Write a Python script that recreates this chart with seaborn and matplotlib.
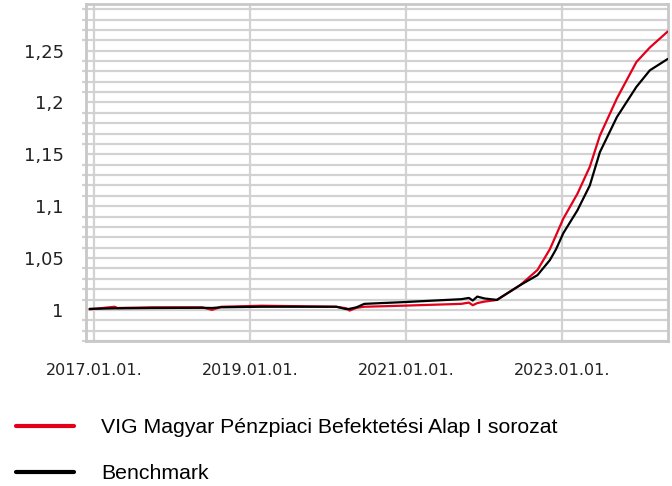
import numpy as np
import pandas as pd
import matplotlib
matplotlib.use("Agg")
import matplotlib.pyplot as plt
import matplotlib.dates as mdates
from matplotlib.ticker import FuncFormatter, MultipleLocator
import seaborn as sns

## data

dates = ["2016-12-12", "2017-04-08", "2017-04-20", "2017-10-01", "2018-05-22",
         "2018-07-08", "2018-08-20", "2019-02-25", "2019-09-02", "2020-02-10",
         "2020-03-28", "2020-04-12", "2020-05-15", "2020-06-20", "2020-12-13",
         "2021-09-17", "2021-10-23", "2021-11-10", "2021-12-01", "2022-01-04",
         "2022-03-03", "2022-06-21", "2022-09-09", "2022-11-06", "2022-12-05",
         "2023-01-08", "2023-03-15", "2023-05-12", "2023-06-28", "2023-09-16",
         "2023-12-16", "2024-02-17", "2024-05-11"]

fund = [1.0005, 1.0030, 1.0018, 1.0025, 1.0025,
        1.0000, 1.0030, 1.0040, 1.0035, 1.0030,
        1.0015, 0.9993, 1.0020, 1.0030, 1.0040,
        1.0058, 1.0070, 1.0045, 1.0065, 1.0080,
        1.0096, 1.0240, 1.0385, 1.0585, 1.0720,
        1.0880, 1.1120, 1.1380, 1.1680, 1.2040,
        1.2390, 1.2530, 1.2685]

benchmark = [1.0010, 1.0015, 1.0015, 1.0018, 1.0020,
             1.0018, 1.0025, 1.0030, 1.0030, 1.0030,
             1.0007, 1.0010, 1.0025, 1.0058, 1.0074,
             1.0103, 1.0115, 1.0090, 1.0128, 1.0110,
             1.0096, 1.0240, 1.0335, 1.0480, 1.0585,
             1.0740, 1.0960, 1.1200, 1.1520, 1.1860,
             1.2150, 1.2310, 1.2420]

series_names = ["VIG Magyar Pénzpiaci Befektetési Alap I sorozat", "Benchmark"]
tick_dates = ["2017-01-01", "2019-01-01", "2021-01-01", "2023-01-01"]
y_ticks = [1.0, 1.05, 1.1, 1.15, 1.2, 1.25]

## long format for seaborn

df = pd.DataFrame({"date": pd.to_datetime(dates), series_names[0]: fund, series_names[1]: benchmark})
long_df = df.melt(id_vars="date", var_name="series", value_name="value")

sns.set_style("white")
plt.rcParams["font.family"] = ["DejaVu Sans"]

fig = plt.figure(figsize=(6.72, 4.86), dpi=100)
ax = fig.add_axes([0.128, 0.2984, 0.866, 0.6934])

grid_col = "#d2d2d2"

sns.lineplot(data=long_df, x="date", y="value", hue="series",
             palette={series_names[0]: "#e2001a", series_names[1]: "black"},
             linewidth=1.6, ax=ax, zorder=3)

ax.set_xlim(pd.Timestamp("2016-11-25"), pd.Timestamp("2024-05-12"))
ax.set_ylim(0.97, 1.295)

ax.set_xticks(pd.to_datetime(tick_dates))
ax.xaxis.set_major_formatter(mdates.DateFormatter("%Y.%m.%d."))
ax.set_yticks(y_ticks)
ax.yaxis.set_minor_locator(MultipleLocator(0.01))
ax.yaxis.set_major_formatter(FuncFormatter(lambda v, p: f"{v:g}".replace(".", ",")))

ax.grid(which="major", axis="x", color=grid_col, linewidth=1.6)
ax.grid(which="both", axis="y", color=grid_col, linewidth=1.6)
ax.set_axisbelow(True)

ax.tick_params(axis="both", which="major", length=6, width=1.6, color=grid_col,
               labelcolor="#222222")
ax.tick_params(axis="x", pad=10, labelsize=11.5)
ax.tick_params(axis="y", pad=10, labelsize=13)
ax.tick_params(axis="y", which="minor", length=3, width=1.6, color=grid_col, left=True)

for s in ax.spines.values():
    s.set_color("#c8c8c8")
    s.set_linewidth(2)

ax.set_xlabel("")
ax.set_ylabel("")

sns.move_legend(ax, "upper left", bbox_to_anchor=(0.0115, 0.157), bbox_transform=fig.transFigure,
                frameon=False, title=None, handlelength=2.7, borderaxespad=0,
                handletextpad=1.3, labelspacing=1.27,
                prop={"family": "Liberation Sans", "size": 15.3})
leg = ax.get_legend()
for line in leg.get_lines():
    line.set_linewidth(3)
for t in leg.get_texts():
    t.set_color("black")

fig.savefig("out.png", dpi=100)
